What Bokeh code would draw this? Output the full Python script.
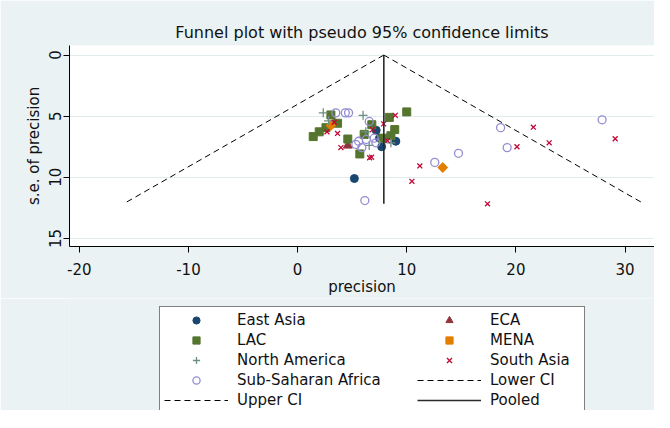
from bokeh.plotting import figure
from bokeh.layouts import column
from bokeh.models import Range1d, FixedTicker, Legend, LegendItem, Title
from bokeh.embed import file_html
from bokeh.resources import INLINE
import math

FONT = "DejaVu Sans"

# ---- data (precision, s.e. of precision) ----
east_asia_x = [7.2, 7.5, 7.7, 9.0, 5.2]
east_asia_y = [6.15, 6.8, 7.5, 7.05, 10.1]

eca_x = [4.6, 3.4]
eca_y = [7.4, 5.6]

lac_x = [3.05, 3.66, 2.6, 1.98, 1.43, 4.6, 6.1, 5.7, 8.4, 10.0, 8.9, 8.55, 7.8, 6.8]
lac_y = [4.9, 5.58, 5.94, 6.28, 6.67, 6.87, 6.49, 8.09, 5.1, 4.65, 6.1, 6.6, 6.8, 5.7]

mena_x = [3.05, 13.3]
mena_y = [5.76, 9.2]

north_america_x = [2.35, 6.0, 2.84, 6.56, 8.55, 6.25]
north_america_y = [4.73, 4.93, 5.38, 7.39, 7.18, 6.28]

south_asia_x = [8.95, 7.88, 3.66, 2.69, 3.97, 6.78, 6.87, 8.24, 11.2, 10.47, 3.36,
                17.4, 21.6, 23.05, 20.1, 29.1, 6.6]
south_asia_y = [4.93, 5.63, 6.41, 6.28, 7.57, 8.35, 6.1, 7.0, 9.07, 10.33, 5.5,
                12.17, 5.9, 7.18, 7.5, 6.85, 8.4]

ssa_x = [3.5, 4.37, 4.67, 6.56, 7.02, 5.59, 5.89, 5.34, 7.17, 6.16, 12.57, 14.74,
         18.6, 19.2, 27.9, 6.3]
ssa_y = [4.73, 4.73, 4.73, 5.43, 6.8, 7.05, 7.57, 7.31, 7.18, 11.9, 8.78, 8.04,
         5.94, 7.57, 5.3, 6.9]

pooled = 7.9
x_ticks = [-20, -10, 0, 10, 20, 30]
x_tick_labels = ["-20", "-10", "0", "10", "20", "30"]
y_ticks = [0, 5, 10, 15]

all_se = east_asia_y + eca_y + lac_y + mena_y + north_america_y + south_asia_y + ssa_y
se_max = max(all_se)
se_line = [0, se_max]
lower_x = [pooled - 1.96 * s for s in se_line]
upper_x = [pooled + 1.96 * s for s in se_line]

BG = "#eaf2f3"
TXT = "#111111"

styles = {
    "East Asia": dict(marker="circle", size=8, fill_color="#1a476f", line_color="#1a476f"),
    "ECA": dict(marker="triangle", size=9, fill_color="#90353b", line_color="#90353b"),
    "LAC": dict(marker="square", size=8, fill_color="#55752f", line_color="#55752f"),
    "MENA": dict(marker="square", angle=math.pi / 4, size=7, fill_color="#e37e00",
                 line_color="#e37e00"),
    "North America": dict(marker="cross", size=9, line_color="#6e8e84", line_width=1.3),
    "South Asia": dict(marker="x", size=7, line_color="#c10534", line_width=1.3),
    "Sub-Saharan Africa": dict(marker="circle", size=8, fill_color=None,
                               line_color="#938dd2", line_width=1.3),
}
series = {
    "East Asia": (east_asia_x, east_asia_y),
    "ECA": (eca_x, eca_y),
    "LAC": (lac_x, lac_y),
    "MENA": (mena_x, mena_y),
    "North America": (north_america_x, north_america_y),
    "South Asia": (south_asia_x, south_asia_y),
    "Sub-Saharan Africa": (ssa_x, ssa_y),
}
dash_style = dict(line_color="black", line_dash="6 4", line_width=1)
pool_style = dict(line_color="#2a2a2a", line_width=1.6)

p = figure(width=654, height=298, output_backend="svg", toolbar_location=None,
           x_range=Range1d(-20.9, 32.7), y_range=Range1d(15.66, -0.78),
           min_border_left=69, min_border_right=0, min_border_top=0, min_border_bottom=50,
           background_fill_color="white", border_fill_color=BG, outline_line_color=None)

# the figure's own title is an empty spacer; the real title sits below it
p.title.text = " "
p.title.text_font = FONT
p.title.text_font_size = "13px"
p.title.standoff = 0
p.add_layout(Title(text="Funnel plot with pseudo 95% confidence limits", align="center",
                   text_font=FONT, text_font_style="normal", text_font_size="16px",
                   text_color=TXT, standoff=7), "above")

for ax in (p.xaxis[0], p.yaxis[0]):
    ax.axis_line_color = "black"
    ax.major_tick_line_color = "black"
    ax.major_tick_out = 6
    ax.major_tick_in = 0
    ax.minor_tick_line_color = None
    ax.major_label_text_font = FONT
    ax.major_label_text_font_size = "15px"
    ax.major_label_text_color = TXT
    ax.axis_label_text_font = FONT
    ax.axis_label_text_font_size = "15px"
    ax.axis_label_text_font_style = "normal"
    ax.axis_label_text_color = TXT

p.xaxis.ticker = FixedTicker(ticks=x_ticks)
p.xaxis.major_label_overrides = dict(zip(x_ticks, x_tick_labels))
p.yaxis.ticker = FixedTicker(ticks=y_ticks)
p.xaxis.axis_label = "precision"
p.yaxis.axis_label = "s.e. of precision"
p.yaxis.major_label_orientation = "vertical"
p.xaxis.major_label_standoff = 10
p.xaxis.axis_label_standoff = 0
p.yaxis.major_label_standoff = 2
p.yaxis.axis_label_standoff = 4

p.xgrid.visible = False
p.ygrid.ticker = FixedTicker(ticks=y_ticks)
p.ygrid.grid_line_color = "#e2ecee"

for name, (xs, ys) in series.items():
    p.scatter(xs, ys, **styles[name])

p.line(lower_x, se_line, **dash_style)
p.line(upper_x, se_line, **dash_style)
p.line([pooled, pooled], se_line, **pool_style)

# ---- legend panel below the chart ----
lg = figure(width=654, height=112, output_backend="svg", toolbar_location=None,
            title=None, x_axis_location=None, y_axis_location=None,
            x_range=Range1d(100, 101), y_range=Range1d(100, 101),
            min_border_left=69, min_border_right=0, min_border_top=0, min_border_bottom=0,
            background_fill_color=BG, border_fill_color=BG, outline_line_color=None)
lg.xgrid.visible = False
lg.ygrid.visible = False

# hidden copies of the series, used only to draw the legend keys
keys = {}
for name, (xs, ys) in series.items():
    keys[name] = lg.scatter(xs, ys, visible=False, **styles[name])
keys["Lower CI"] = lg.line(lower_x, se_line, visible=False, **dash_style)
keys["Upper CI"] = lg.line(upper_x, se_line, visible=False, **dash_style)
keys["Pooled"] = lg.line([pooled, pooled], se_line, visible=False, **pool_style)

left_col = ["East Asia", "LAC", "North America", "Sub-Saharan Africa", "Upper CI"]
right_col = ["ECA", "MENA", "South Asia", "Lower CI", "Pooled"]

common = dict(glyph_width=64, glyph_height=18, label_standoff=9, spacing=2,
              padding=4, margin=0, label_text_font=FONT, label_text_font_size="15px",
              label_text_color=TXT, inactive_fill_alpha=0.0)

legend_left = Legend(items=[LegendItem(label=n, renderers=[keys[n]]) for n in left_col],
                     location=(90, -4), label_width=343,
                     border_line_color="black", border_line_width=1,
                     background_fill_color="white", background_fill_alpha=1.0, **common)
legend_right = Legend(items=[LegendItem(label=n, renderers=[keys[n]]) for n in right_col],
                      location=(348, 1), border_line_color=None,
                      background_fill_alpha=0.0, **common)
lg.add_layout(legend_left)
lg.add_layout(legend_right)

layout = column(p, lg, spacing=0)
open("out.html", "w").write(file_html(layout, INLINE))
